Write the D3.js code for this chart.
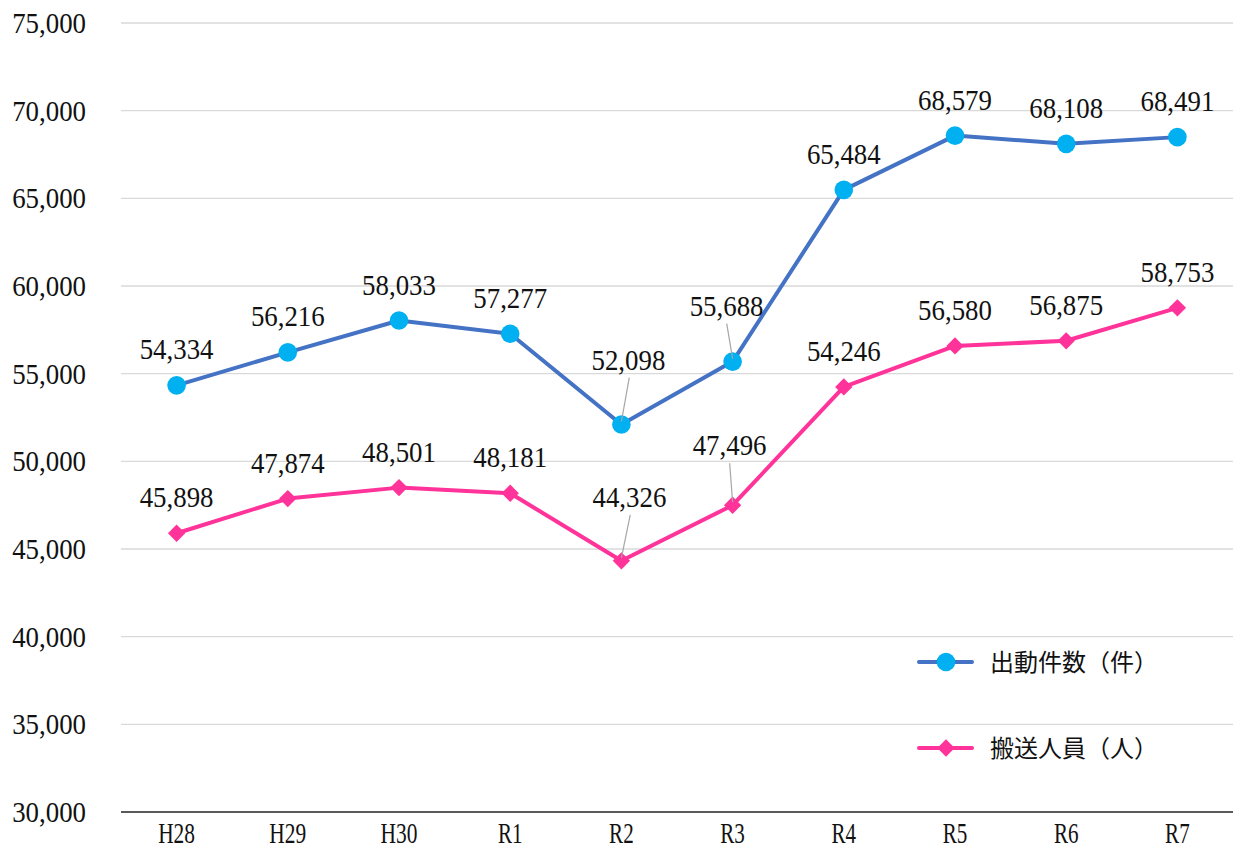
<!DOCTYPE html>
<html>
<head>
<meta charset="utf-8">
<script src="https://cdn.jsdelivr.net/npm/d3@7"></script>
<style>
  body { margin: 0; background: #fff; }
  svg text { fill: #111; }
</style>
</head>
<body>
<div id="chart"></div>
<script>
// data
const categories = ["H28", "H29", "H30", "R1", "R2", "R3", "R4", "R5", "R6", "R7"];
const dispatches = [54334, 56216, 58033, 57277, 52098, 55688, 65484, 68579, 68108, 68491];
const transported = [45898, 47874, 48501, 48181, 44326, 47496, 54246, 56580, 56875, 58753];
const seriesNames = ["出動件数（件）", "搬送人員（人）"];
const yTicks = [30000, 35000, 40000, 45000, 50000, 55000, 60000, 65000, 70000, 75000];

// layout
const width = 1235, height = 857;
const margin = {top: 23, right: 2, bottom: 45, left: 121};
const charW = 12.3; // narrow mincho-like digits

const fmt = d3.format(",");

const svg = d3.select("#chart").append("svg")
  .attr("width", width)
  .attr("height", height);

const x = d3.scaleBand()
  .domain(categories)
  .range([margin.left, width - margin.right]);

const y = d3.scaleLinear()
  .domain([30000, 75000])
  .range([height - margin.bottom, margin.top]);

const cx = d => x(d) + x.bandwidth() / 2;

// condensed serif text helper
function numText(sel) {
  return sel
    .attr("font-family", "'Liberation Serif', 'DejaVu Serif', serif")
    .attr("font-size", 29)
    .attr("textLength", d => String(d.label).length * charW)
    .attr("lengthAdjust", "spacingAndGlyphs");
}

// gridlines
svg.append("g").selectAll("line")
  .data(yTicks.slice(1))
  .join("line")
  .attr("x1", margin.left)
  .attr("x2", width - margin.right)
  .attr("y1", d => y(d))
  .attr("y2", d => y(d))
  .attr("stroke", "#d9d9d9")
  .attr("stroke-width", 1.3);

// bottom axis line
svg.append("line")
  .attr("x1", margin.left)
  .attr("x2", width - margin.right)
  .attr("y1", y(30000))
  .attr("y2", y(30000))
  .attr("stroke", "#222")
  .attr("stroke-width", 1.5);

// y labels
svg.append("g").selectAll("text")
  .data(yTicks.map(v => ({v, label: fmt(v)})))
  .join("text")
  .attr("x", 86)
  .attr("y", d => y(d.v))
  .attr("text-anchor", "end")
  .attr("dy", "0.35em")
  .call(numText)
  .text(d => d.label);

// x labels
svg.append("g").selectAll("text")
  .data(categories.map(c => ({c, label: c})))
  .join("text")
  .attr("x", d => cx(d.c))
  .attr("y", 843)
  .attr("text-anchor", "middle")
  .call(numText)
  .text(d => d.label);

// series
const series = [
  {name: seriesNames[0], values: dispatches, line: "#4472c4", marker: "#00b0f0", shape: "circle",
   offsets: {R2: [7, -65], R3: [-6, -56]}},
  {name: seriesNames[1], values: transported, line: "#ff3399", marker: "#ff3399", shape: "diamond",
   offsets: {R2: [8, -64], R3: [-3, -60]}}
];

const lineGen = d3.line()
  .x((d, i) => cx(categories[i]))
  .y(d => y(d));

const diamond = d3.symbol(d3.symbolSquare, 150);

function drawMarker(g, s) {
  if (s.shape === "circle") {
    g.append("circle").attr("r", 9.3).attr("fill", s.marker);
  } else {
    g.append("path").attr("d", diamond).attr("transform", "rotate(45)").attr("fill", s.marker);
  }
}

series.forEach(s => {
  svg.append("path")
    .datum(s.values)
    .attr("fill", "none")
    .attr("stroke", s.line)
    .attr("stroke-width", 4)
    .attr("stroke-linejoin", "round")
    .attr("d", lineGen);

  const pts = s.values.map((v, i) => ({c: categories[i], v, label: fmt(v)}));

  pts.forEach(p => {
    const g = svg.append("g")
      .attr("transform", `translate(${cx(p.c)},${y(p.v)})`);
    drawMarker(g, s);
  });

  // leader lines
  pts.filter(p => s.offsets[p.c]).forEach(p => {
    const [dx, dy] = s.offsets[p.c];
    const px = cx(p.c), py = y(p.v);
    svg.append("line")
      .attr("x1", px + dx * 0.98 + (dx > 0 ? 1 : 0))
      .attr("y1", py + dy + 18)
      .attr("x2", px)
      .attr("y2", py - 3)
      .attr("stroke", "#a6a6a6")
      .attr("stroke-width", 1.2);
  });

  svg.append("g").selectAll("text")
    .data(pts)
    .join("text")
    .attr("x", d => cx(d.c) + (s.offsets[d.c] ? s.offsets[d.c][0] : 0))
    .attr("y", d => y(d.v) + (s.offsets[d.c] ? s.offsets[d.c][1] : -36))
    .attr("dy", "0.35em")
    .attr("text-anchor", "middle")
    .call(numText)
    .text(d => d.label);
});

// legend
const legend = svg.append("g");
series.forEach((s, i) => {
  const ly = 662 + i * 86;
  const g = legend.append("g").attr("transform", `translate(919,${ly})`);
  g.append("line")
    .attr("x1", 0).attr("x2", 53)
    .attr("stroke", s.line)
    .attr("stroke-width", 4)
    .attr("stroke-linecap", "round");
  const m = g.append("g").attr("transform", "translate(27,0)");
  drawMarker(m, s);
  g.append("text")
    .attr("x", 71)
    .attr("dy", "0.36em")
    .attr("font-family", "'Noto Sans CJK JP', sans-serif")
    .attr("font-size", 24)
    .text(s.name);
});
</script>
</body>
</html>
